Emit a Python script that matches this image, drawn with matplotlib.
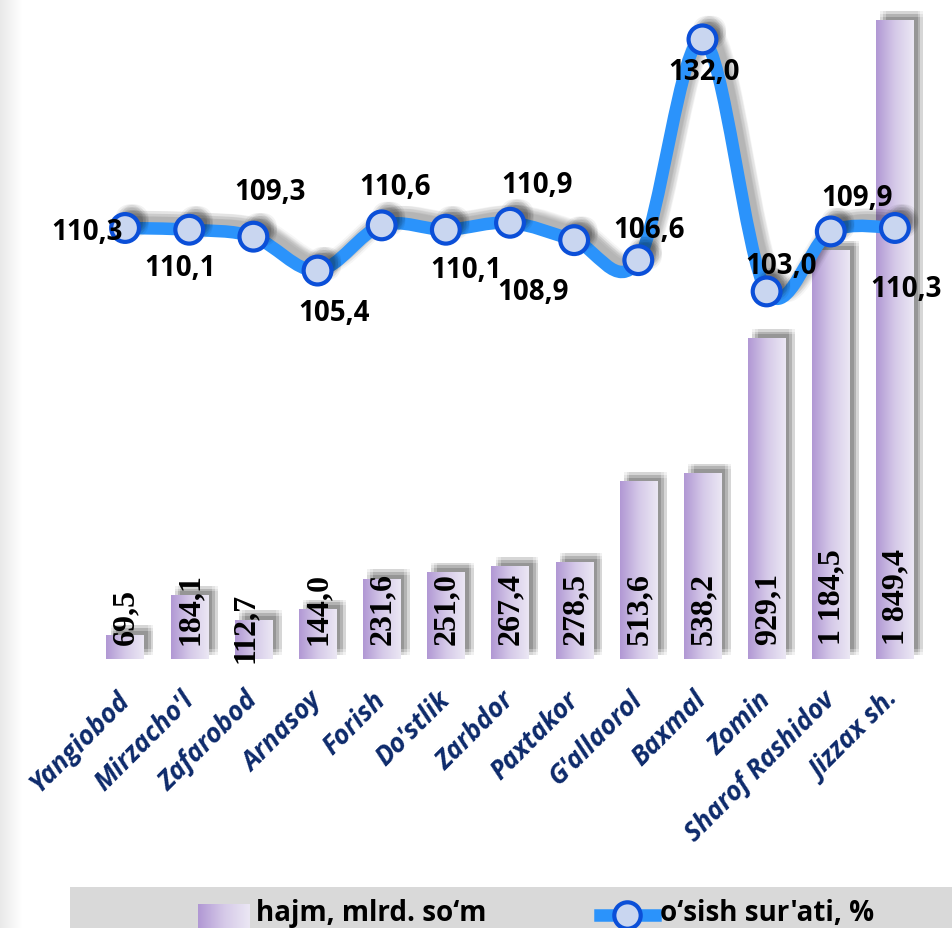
import matplotlib
matplotlib.use("Agg")
import matplotlib.pyplot as plt
import matplotlib.patheffects as pe
import numpy as np
from matplotlib.path import Path
from matplotlib.patches import PathPatch
from matplotlib.lines import Line2D
from matplotlib.colors import LinearSegmentedColormap

districts = ["Yangiobod", "Mirzacho'l", "Zafarobod", "Arnasoy", "Forish", "Do'stlik",
             "Zarbdor", "Paxtakor", "G'allaorol", "Baxmal", "Zomin",
             "Sharof Rashidov", "Jizzax sh."]
volume = [69.5, 184.1, 112.7, 144.0, 231.6, 251.0, 267.4, 278.5, 513.6, 538.2,
          929.1, 1184.5, 1849.4]
growth = [110.3, 110.1, 109.3, 105.4, 110.6, 110.1, 110.9, 108.9, 106.6, 132.0,
          103.0, 109.9, 110.3]
volume_labels = ["69,5", "184,1", "112,7", "144,0", "231,6", "251,0", "267,4",
                 "278,5", "513,6", "538,2", "929,1", "1 184,5", "1 849,4"]
growth_labels = ["110,3", "110,1", "109,3", "105,4", "110,6", "110,1", "110,9",
                 "108,9", "106,6", "132,0", "103,0", "109,9", "110,3"]

# label offsets in pixels (dx, dy up)
growth_offsets = [(-38, -4), (-9, -38), (17, 45), (16, -42), (13, 39), (20, -40),
                  (27, 38), (-41, -51), (11, 31), (2, -32), (14, 26), (26, 34),
                  (11, -61)]
volume_offsets = [(0, 0)] * 13
volume_offsets[2] = (-9, -18)

SANS = ["Open Sans", "DejaVu Sans"]
W, H = 952, 929
fig = plt.figure(figsize=(W / 100, H / 100), dpi=100)
fig.patch.set_facecolor("white")

# light grey strip at the left edge
strip = fig.add_axes([0, 0, 22 / W, 1])
strip.imshow(np.linspace(0, 1, 50)[None, :], aspect="auto",
             cmap=LinearSegmentedColormap.from_list("s", ["#e9e9e9", "#ffffff"]),
             extent=[0, 1, 0, 1])
strip.axis("off")

left, right, top, bottom = 93, 927, 10, 660
ax = fig.add_axes([left / W, 1 - bottom / H, (right - left) / W, (bottom - top) / H])
ax.patch.set_alpha(0)
x = np.arange(len(districts))

bar_cmap = LinearSegmentedColormap.from_list("bar", ["#b198d4", "#d5c9e8", "#ebe7f4"])
shadow_fx = [pe.SimplePatchShadow(offset=(dx, dy), shadow_rgbFace="black", alpha=0.055)
             for dx in (3, 5, 7) for dy in (3, 5, 7)]
bars = ax.bar(x, volume, width=0.58, facecolor="none", edgecolor="none", zorder=1)
for b in bars:
    b.set_path_effects(shadow_fx)
    ax.imshow(np.linspace(0, 1, 64)[None, :], cmap=bar_cmap, aspect="auto",
              extent=[b.get_x(), b.get_x() + b.get_width(), 0, b.get_height()],
              zorder=2)

for i, (lab, off) in enumerate(zip(volume_labels, volume_offsets)):
    ax.annotate(lab, (x[i], 0), xytext=(off[0] + 1, 15 + off[1]),
                textcoords="offset pixels", rotation=90, ha="center", va="bottom",
                fontsize=23, fontweight="bold", family="Liberation Serif",
                color="black", zorder=6)

ax.set_xlim(-0.5, len(districts) - 0.5)
ax.set_ylim(0, 1884)
ax.set_yticks([])
ax.set_xticks(x)
ax.set_xticklabels(districts, rotation=45, ha="right", va="center",
                   rotation_mode="anchor", fontsize=19, fontweight="bold",
                   fontstyle="italic", family=SANS, color="#0d2a6b")
ax.tick_params(axis="x", length=0, pad=26)
for s in ax.spines.values():
    s.set_visible(False)

# growth line on a second axis
ax2 = ax.twinx()
ax2.set_ylim(60.7, 135.5)
ax2.set_yticks([])
for s in ax2.spines.values():
    s.set_visible(False)

# smooth curve through the points (cardinal spline as bezier segments)
pts = np.column_stack([x, growth]).astype(float)
ext = np.vstack([pts[0], pts, pts[-1]])
verts = [tuple(pts[0])]
codes = [Path.MOVETO]
for i in range(len(pts) - 1):
    p0, p1, p2, p3 = ext[i], ext[i + 1], ext[i + 2], ext[i + 3]
    c1 = p1 + (p2 - p0) / 6
    c2 = p2 - (p3 - p1) / 6
    verts += [tuple(c1), tuple(c2), tuple(p2)]
    codes += [Path.CURVE4] * 3
line_fx = [pe.Stroke(offset=(dx, dy), linewidth=11, foreground="black", alpha=0.035)
           for dx in (3, 5, 7) for dy in (3, 5, 7)] + [pe.Normal()]
curve = PathPatch(Path(verts, codes), facecolor="none", edgecolor="#2b93fb",
                  linewidth=9, capstyle="round", joinstyle="round", zorder=3,
                  path_effects=line_fx)
ax2.add_patch(curve)

mk_fx = [pe.SimplePatchShadow(offset=(dx, dy), shadow_rgbFace="black", alpha=0.05)
         for dx in (3, 5, 7) for dy in (3, 5, 7)] + [pe.Normal()]
ax2.plot(x, growth, linestyle="none", marker="o", markersize=20,
         markerfacecolor="#c9d6f0", markeredgecolor="#0b4fd8", markeredgewidth=3,
         zorder=4, path_effects=mk_fx)

for i, (lab, off) in enumerate(zip(growth_labels, growth_offsets)):
    ax2.annotate(lab, (x[i], growth[i]), xytext=off, textcoords="offset pixels",
                 ha="center", va="center", fontsize=20, fontweight="bold",
                 family=SANS, color="black", zorder=7)
ax2.set_xlim(-0.5, len(districts) - 0.5)

# legend band at the bottom
lg = fig.add_axes([70 / W, 0, (W - 70) / W, 41 / H])
lg.set_facecolor("#d9d9d9")
lg.set_xticks([])
lg.set_yticks([])
for s in lg.spines.values():
    s.set_visible(False)
lg.imshow(np.linspace(0, 1, 64)[None, :], cmap=bar_cmap, aspect="auto",
          extent=[128, 180, 0, 24])
lg.set_xlim(0, W - 70)
lg.set_ylim(0, 41)
lg.text(186, 1, "hajm, mlrd. so\u2018m", fontsize=20, fontweight="bold",
        family=SANS, va="bottom", ha="left")
lg.add_line(Line2D([530, 585], [13, 13], color="#2b93fb", linewidth=9))
lg.plot([557], [13], marker="o", markersize=19, markerfacecolor="#c9d6f0",
        markeredgecolor="#0b4fd8", markeredgewidth=3)
lg.text(590, 1, "o\u2018sish sur'ati, %", fontsize=20, fontweight="bold",
        family=SANS, va="bottom", ha="left")

fig.savefig("out.png", dpi=100)
